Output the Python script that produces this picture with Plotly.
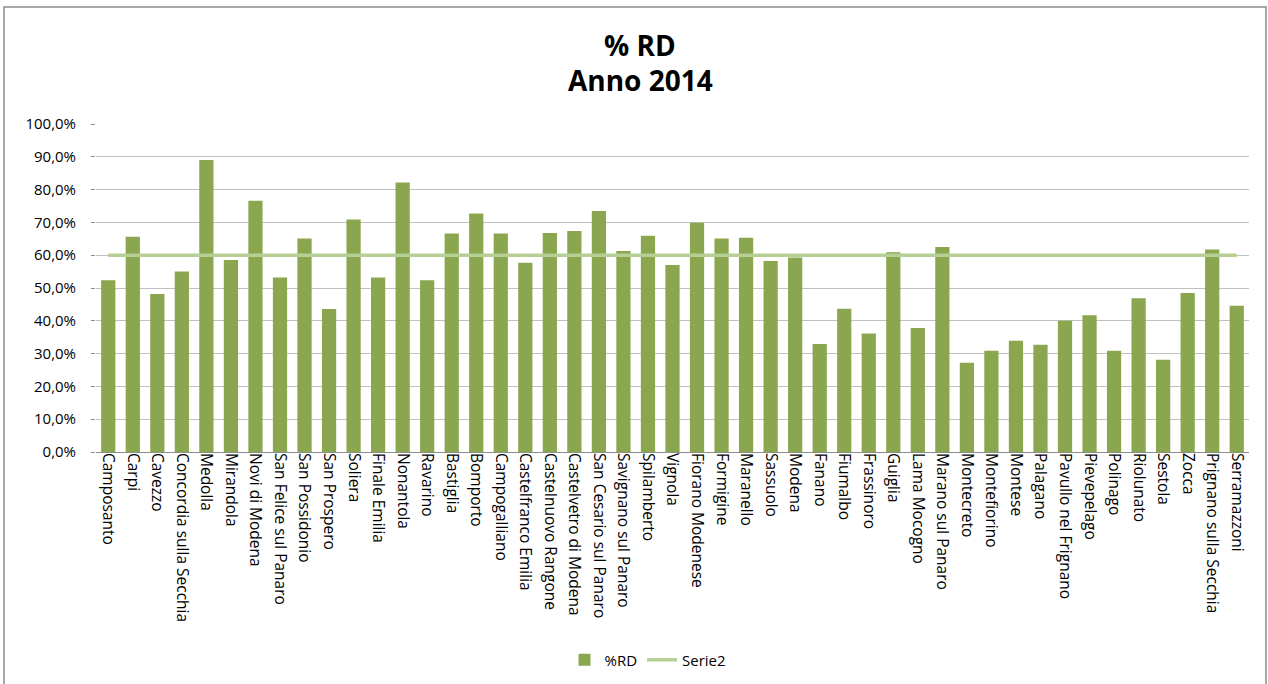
import plotly.graph_objects as go

comuni = [
    "Camposanto", "Carpi", "Cavezzo", "Concordia sulla Secchia", "Medolla",
    "Mirandola", "Novi di Modena", "San Felice sul Panaro", "San Possidonio",
    "San Prospero", "Soliera", "Finale Emilia", "Nonantola", "Ravarino",
    "Bastiglia", "Bomporto", "Campogalliano", "Castelfranco Emilia",
    "Castelnuovo Rangone", "Castelvetro di Modena", "San Cesario sul Panaro",
    "Savignano sul Panaro", "Spilamberto", "Vignola", "Fiorano Modenese",
    "Formigine", "Maranello", "Sassuolo", "Modena", "Fanano", "Fiumalbo",
    "Frassinoro", "Guiglia", "Lama Mocogno", "Marano sul Panaro", "Montecreto",
    "Montefiorino", "Montese", "Palagano", "Pavullo nel Frignano",
    "Pievepelago", "Polinago", "Riolunato", "Sestola", "Zocca",
    "Prignano sulla Secchia", "Serramazzoni",
]

rd = [
    0.524, 0.656, 0.482, 0.550, 0.890, 0.585, 0.766, 0.532, 0.651, 0.436,
    0.709, 0.532, 0.822, 0.524, 0.666, 0.727, 0.666, 0.577, 0.668, 0.674,
    0.735, 0.613, 0.659, 0.570, 0.699, 0.651, 0.653, 0.582, 0.593, 0.329,
    0.437, 0.361, 0.609, 0.378, 0.625, 0.272, 0.309, 0.339, 0.327, 0.400,
    0.417, 0.309, 0.469, 0.281, 0.485, 0.617, 0.446,
]

serie2 = [
    0.60, 0.60, 0.60, 0.60, 0.60, 0.60, 0.60, 0.60, 0.60, 0.60,
    0.60, 0.60, 0.60, 0.60, 0.60, 0.60, 0.60, 0.60, 0.60, 0.60,
    0.60, 0.60, 0.60, 0.60, 0.60, 0.60, 0.60, 0.60, 0.60, 0.60,
    0.60, 0.60, 0.60, 0.60, 0.60, 0.60, 0.60, 0.60, 0.60, 0.60,
    0.60, 0.60, 0.60, 0.60, 0.60, 0.60, 0.60,
]

y_ticks = [0.0, 0.1, 0.2, 0.3, 0.4, 0.5, 0.6, 0.7, 0.8, 0.9, 1.0]

title_lines = ["% RD", "Anno 2014"]

W, H = 1268, 684
L, R, T, B = 96, 1249, 124, 452

BAR = "#8aa64f"
LINE = "#b6cf94"
FONT = "Open Sans"

fig = go.Figure()
fig.add_trace(go.Bar(
    x=comuni, y=rd, name="%RD", marker=dict(color=BAR, line=dict(width=0)),
))
fig.add_trace(go.Scatter(
    x=comuni, y=serie2, name="Serie2", mode="lines",
    line=dict(color=LINE, width=3.5),
))

pw = R - L
ph = B - T

def px_x(p):
    return (p - L) / pw

def px_y(p):
    return (B - p) / ph

annotations = [
    dict(text="<b>" + txt + "</b>", xref="paper", yref="paper",
         x=px_x(640), y=px_y(yc), xanchor="center", yanchor="middle",
         showarrow=False, font=dict(family=FONT, size=28, color="#000000"))
    for txt, yc in zip(title_lines, [45, 80])
]

fig.update_layout(
    width=W, height=H,
    margin=dict(l=L, r=W - R, t=T, b=H - B, autoexpand=False),
    paper_bgcolor="white", plot_bgcolor="white",
    separators=",.",
    bargap=0.42,
    font=dict(family=FONT, size=15, color="#000000"),
    annotations=annotations,
    showlegend=True,
    legend=dict(
        orientation="h", x=px_x(648), xanchor="center",
        y=px_y(660), yanchor="middle",
        font=dict(family=FONT, size=15, color="#000000"),
        bgcolor="rgba(0,0,0,0)", itemwidth=30,
    ),
    xaxis=dict(
        type="category", tickangle=90, automargin=False,
        showgrid=False, showline=False, ticks="",
        tickfont=dict(family=FONT, size=15.5, color="#000000"),
        range=[-0.5, len(comuni) - 0.5],
    ),
    yaxis=dict(
        range=[0, 1.0], tickvals=y_ticks, tickformat=".1%",
        showgrid=True, gridcolor="#c0c0c0", gridwidth=1.3,
        zeroline=True, zerolinecolor="#8c8c8c", zerolinewidth=1.3,
        showline=False, ticks="outside", ticklen=4, tickcolor="#8c8c8c",
        ticklabelstandoff=12, automargin=False,
        tickfont=dict(family=FONT, size=15, color="#000000"),
    ),
    shapes=[dict(
        type="rect", xref="paper", yref="paper",
        x0=px_x(4), x1=px_x(1266), y0=px_y(690), y1=px_y(7),
        line=dict(color="#8c8c8c", width=1.5), fillcolor="rgba(0,0,0,0)",
        layer="below",
    )],
)

fig.write_html(
    "out.html",
    config={"displayModeBar": False},
    post_script="document.body.style.margin='0';document.body.style.padding='0';",
)
